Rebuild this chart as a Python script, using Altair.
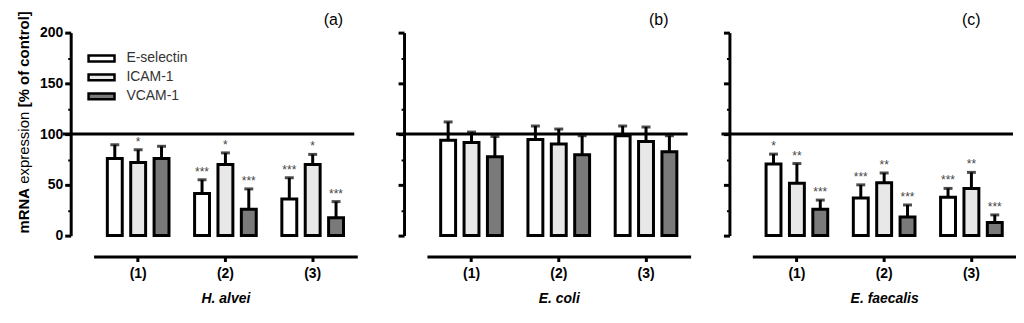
import altair as alt
import pandas as pd

FONT = "Liberation Sans"

groups = ["(1)", "(2)", "(3)"]
genes = ["E-selectin", "ICAM-1", "VCAM-1"]
panel_titles = ["H. alvei", "E. coli", "E. faecalis"]
panel_tags = ["(a)", "(b)", "(c)"]
gene_fills = ["#ffffff", "#e8e8e8", "#7a7a7a"]

# (a) H. alvei
halvei_esel = [76, 41.5, 36]
halvei_esel_sd = [13.5, 13.5, 21]
halvei_icam = [72, 70, 70]
halvei_icam_sd = [12.6, 11.5, 10]
halvei_vcam = [76, 26, 17.5]
halvei_vcam_sd = [12, 20, 16]
halvei_esel_sig = ["", "***", "***"]
halvei_icam_sig = ["*", "*", "*"]
halvei_vcam_sig = ["", "***", "***"]

# (b) E. coli
ecoli_esel = [94, 94.7, 98.4]
ecoli_esel_sd = [18, 13.3, 9.6]
ecoli_icam = [91.8, 90.2, 92.8]
ecoli_icam_sd = [10.2, 14.8, 14.2]
ecoli_vcam = [77.7, 79.7, 82.6]
ecoli_vcam_sd = [20, 18.7, 15.8]
ecoli_esel_sig = ["", "", ""]
ecoli_icam_sig = ["", "", ""]
ecoli_vcam_sig = ["", "", ""]

# (c) E. faecalis
efaec_esel = [70.5, 37, 37.7]
efaec_esel_sd = [9.8, 13, 8.8]
efaec_icam = [51.5, 52, 46.5]
efaec_icam_sd = [19.5, 9.7, 15.8]
efaec_vcam = [26, 18.4, 13]
efaec_vcam_sd = [9, 11.8, 7.4]
efaec_esel_sig = ["*", "***", "***"]
efaec_icam_sig = ["**", "**", "**"]
efaec_vcam_sig = ["***", "***", "***"]

control_level = [100]
y_ticks = [0, 25, 50, 75, 100, 125, 150, 175, 200]
ytitle_parts = ["mRNA", "expression", "[% of control]"]


def make_df(means, sds, sigs):
    rows = []
    for gi, g in enumerate(genes):
        for k, grp in enumerate(groups):
            rows.append({"group": grp, "gene": g, "mean": means[gi][k],
                         "top": means[gi][k] + sds[gi][k], "star": sigs[gi][k]})
    return pd.DataFrame(rows)


W, H = 265, 204


def panel(df, tag, title, first):
    x_axis = alt.Axis(title=title, orient="bottom", offset=21, domainWidth=3,
                      domainColor="black", tickWidth=3, tickSize=5, tickColor="black",
                      labelFont=FONT, labelFontSize=14, labelFontWeight="bold",
                      labelColor="black", labelPadding=5, labelAngle=0,
                      titleFont=FONT, titleFontSize=14, titleFontWeight="bold",
                      titleFontStyle="italic", titlePadding=11, titleColor="black")
    x = alt.X("group:N", sort=groups,
              scale=alt.Scale(domain=groups, paddingInner=0.25, paddingOuter=0.136),
              axis=x_axis)
    xo = alt.XOffset("gene:N", sort=genes,
                     scale=alt.Scale(domain=genes, paddingInner=0.362, paddingOuter=0.081))
    y_axis = alt.Axis(title=None, offset=23, values=y_ticks, grid=False,
                      domainWidth=3, domainColor="black", tickColor="black",
                      tickWidth={"condition": {"test": "datum.value % 50 === 0", "value": 3}, "value": 2},
                      tickSize={"condition": {"test": "datum.value % 50 === 0", "value": 6}, "value": 3},
                      labels=first, labelExpr="datum.value % 50 === 0 ? datum.label : ''",
                      labelFont=FONT, labelFontSize=14, labelFontWeight="bold",
                      labelColor="black", labelPadding=2)
    yscale = alt.Scale(domain=[0, 200], nice=False, zero=True)

    legend = None
    if first:
        legend = alt.Legend(title=None, orient="none", legendX=0, legendY=18,
                            symbolType="M-2,-0.45L2,-0.45L2,0.45L-2,0.45Z", symbolSize=170,
                            symbolStrokeColor="black", symbolStrokeWidth=2.5,
                            labelFont=FONT, labelFontSize=14, labelColor="#333333",
                            labelOffset=17, rowPadding=3, padding=0)

    base = alt.Chart(df)
    bars = base.mark_bar(stroke="black", strokeWidth=3).encode(
        x=x, xOffset=xo,
        y=alt.Y("mean:Q", scale=yscale, axis=y_axis),
        fill=alt.Fill("gene:N", sort=genes,
                      scale=alt.Scale(domain=genes, range=gene_fills), legend=legend),
    )
    err = base.mark_rule(strokeWidth=3, color="black").encode(
        x=x, xOffset=xo, y=alt.Y("mean:Q", scale=yscale, axis=y_axis), y2="top:Q")
    cap = base.mark_tick(thickness=3, size=9, color="black").encode(
        x=x, xOffset=xo, y=alt.Y("top:Q", scale=yscale, axis=y_axis))
    stars = base.mark_text(baseline="bottom", dy=-1, fontSize=12, font=FONT,
                           color="#444444").encode(
        x=x, xOffset=xo, y=alt.Y("top:Q", scale=yscale, axis=y_axis), text="star:N")

    ref = alt.Chart(pd.DataFrame({"v": control_level})).mark_rule(
        strokeWidth=3, color="black").encode(
        y=alt.Y("v:Q", scale=yscale, axis=y_axis),
        x=alt.value(-31), x2=alt.value(W - 3))

    tag_pos = {"(a)": 241, "(b)": 233, "(c)": 220}[tag]
    tag_txt = alt.Chart(pd.DataFrame({"t": [tag]})).mark_text(
        fontSize=16, font=FONT, color="black", baseline="middle", align="center").encode(
        x=alt.value(tag_pos), y=alt.value(-13), text="t:N")

    layers = [ref, bars, err, cap, stars, tag_txt]
    if first:
        tdf = pd.DataFrame({"t": ytitle_parts})
        t_mrna = alt.Chart(tdf[tdf.t == ytitle_parts[0]]).mark_text(
            angle=270, align="left", baseline="middle", fontSize=15, font=FONT,
            fontWeight="bold", color="black").encode(
            x=alt.value(-70), y=alt.value(202), text="t:N")
        t_expr = alt.Chart(tdf[tdf.t == ytitle_parts[1]]).mark_text(
            angle=270, align="left", baseline="middle", fontSize=15, font=FONT,
            fontWeight="normal", color="black").encode(
            x=alt.value(-70), y=alt.value(152), text="t:N")
        t_brk = alt.Chart(tdf[tdf.t == ytitle_parts[2]]).mark_text(
            angle=270, align="left", baseline="middle", fontSize=15, font=FONT,
            fontWeight="bold", color="black").encode(
            x=alt.value(-70), y=alt.value(75), text="t:N")
        layers += [t_mrna, t_expr, t_brk]
    return alt.layer(*layers).properties(width=W, height=H)


df_a = make_df([halvei_esel, halvei_icam, halvei_vcam],
               [halvei_esel_sd, halvei_icam_sd, halvei_vcam_sd],
               [halvei_esel_sig, halvei_icam_sig, halvei_vcam_sig])
df_b = make_df([ecoli_esel, ecoli_icam, ecoli_vcam],
               [ecoli_esel_sd, ecoli_icam_sd, ecoli_vcam_sd],
               [ecoli_esel_sig, ecoli_icam_sig, ecoli_vcam_sig])
df_c = make_df([efaec_esel, efaec_icam, efaec_vcam],
               [efaec_esel_sd, efaec_icam_sd, efaec_vcam_sd],
               [efaec_esel_sig, efaec_icam_sig, efaec_vcam_sig])

pa = panel(df_a, panel_tags[0], panel_titles[0], True)
pb = panel(df_b, panel_tags[1], panel_titles[1], False)
pc = panel(df_c, panel_tags[2], panel_titles[2], False)

chart = alt.hconcat(
    alt.hconcat(pa, pb, spacing=37),
    pc, spacing=29,
).resolve_legend(fill="independent").properties(
    padding={"left": 9, "top": 2, "right": 0, "bottom": 0},
    background="white",
).configure(font=FONT, view=alt.ViewConfig(stroke=None))

chart.save("out.html", embed_options={"renderer": "svg", "actions": False})
